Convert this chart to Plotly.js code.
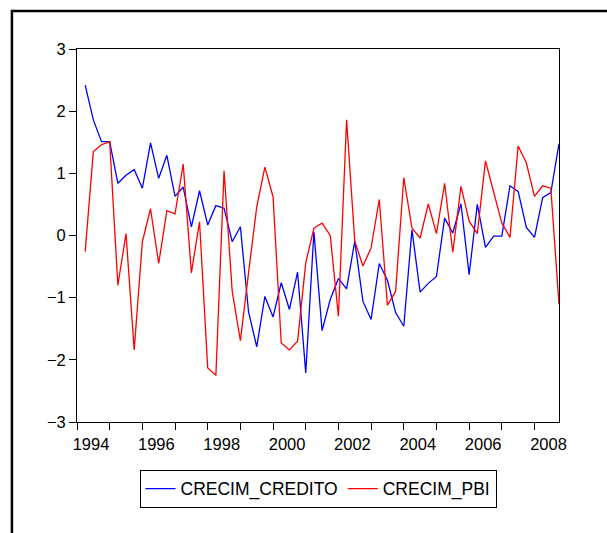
<!DOCTYPE html>
<html>
<head>
<meta charset="utf-8">
<script src="https://cdn.plot.ly/plotly-3.0.1.min.js"></script>
<style>
    html, body { margin: 0; padding: 0; background: #ffffff; }
    #grafico { width: 607px; height: 533px; }
</style>
</head>
<body>
<div id="grafico"></div>
<script>
// quarterly sample 1994Q2 - 2008Q4
const primerAnio = 1994;
const ultimoAnio = 2008;

const crecim_credito = [
    2.42, 1.86, 1.51,
    1.51, 0.84, 0.97, 1.06,
    0.76, 1.49, 0.92, 1.29,
    0.63, 0.78, 0.14, 0.72,
    0.17, 0.48, 0.44, -0.10,
    0.14, -1.23, -1.79, -0.98,
    -1.31, -0.76, -1.19, -0.59,
    -2.21, 0.06, -1.53, -1.03,
    -0.69, -0.86, -0.09, -1.06,
    -1.35, -0.45, -0.72, -1.24,
    -1.46, 0.09, -0.91, -0.77,
    -0.66, 0.28, 0.04, 0.51,
    -0.63, 0.50, -0.19, -0.01,
    -0.01, 0.80, 0.71, 0.13,
    -0.03, 0.61, 0.69, 1.48
];

const crecim_pbi = [
    -0.26, 1.35, 1.46,
    1.51, -0.80, 0.03, -1.84,
    -0.10, 0.43, -0.45, 0.40,
    0.35, 1.15, -0.60, 0.22,
    -2.13, -2.25, 1.04, -0.90,
    -1.69, -0.60, 0.46, 1.10,
    0.62, -1.73, -1.84, -1.70,
    -0.44, 0.12, 0.20, 0.00,
    -1.30, 1.86, -0.09, -0.49,
    -0.20, 0.58, -1.12, -0.90,
    0.93, 0.12, -0.04, 0.51,
    0.03, 0.84, -0.27, 0.79,
    0.23, 0.03, 1.20, 0.70,
    0.20, -0.03, 1.44, 1.17,
    0.63, 0.80, 0.76, -1.11
];

// periods as year + (quarter-1)/4, starting at 1994Q2
let periodos = [];
for (let anio = primerAnio; anio <= ultimoAnio; anio++) {
    for (let q = 1; q <= 4; q++) {
        if (anio == primerAnio && q == 1) continue;
        periodos.push(anio + (q - 1) / 4);
    }
}

let anios_ticks = [];
let anios_texto = [];
for (let anio = primerAnio; anio <= ultimoAnio; anio++) {
    anios_ticks.push(anio);
    anios_texto.push(anio % 2 == 0 ? String(anio) : "");
}

const fuente = "Liberation Sans, Arial, Helvetica, sans-serif";

let data = [{
    x: periodos,
    y: crecim_credito,
    name: "CRECIM_CREDITO",
    mode: "lines",
    type: "scatter",
    line: { color: "#0000ff", width: 1.3 }
}, {
    x: periodos,
    y: crecim_pbi,
    name: "CRECIM_PBI",
    mode: "lines",
    type: "scatter",
    line: { color: "#ff0000", width: 1.3 }
}];

let layout = {
    width: 607,
    height: 533,
    margin: { l: 77, r: 48, t: 49, b: 111 },
    paper_bgcolor: "#ffffff",
    plot_bgcolor: "#ffffff",
    font: { family: fuente, color: "#000000", size: 15 },
    showlegend: true,
    legend: {
        orientation: "h",
        x: 0.5,
        xanchor: "center",
        y: -0.128,
        yanchor: "top",
        bordercolor: "#000000",
        borderwidth: 1,
        font: { family: fuente, size: 17.5, color: "#000000" },
        itemwidth: 30
    },
    xaxis: {
        range: [primerAnio, ultimoAnio + 0.75],
        tickmode: "array",
        tickvals: anios_ticks,
        ticktext: anios_texto,
        ticks: "outside",
        ticklen: 7,
        tickcolor: "#000000",
        ticklabelshift: 14,
        showgrid: false,
        zeroline: false,
        showline: true,
        linecolor: "#000000",
        linewidth: 1,
        mirror: true,
        tickfont: { family: fuente, size: 16.5, color: "#000000" }
    },
    yaxis: {
        range: [-3, 3],
        dtick: 1,
        tick0: 0,
        ticks: "outside",
        ticklen: 7,
        tickcolor: "#000000",
        showgrid: false,
        zeroline: false,
        showline: true,
        linecolor: "#000000",
        linewidth: 1,
        mirror: true,
        tickfont: { family: fuente, size: 16.5, color: "#000000" }
    },
    shapes: [{
        // outer frame of the graph window
        type: "rect",
        xref: "paper",
        yref: "paper",
        x0: -0.135,
        x1: 1.15,
        y0: -0.4,
        y1: 1.102,
        line: { color: "#000000", width: 2.5 },
        fillcolor: "rgba(0,0,0,0)",
        layer: "below"
    }]
};

Plotly.newPlot("grafico", data, layout, { staticPlot: true });
</script>
</body>
</html>
